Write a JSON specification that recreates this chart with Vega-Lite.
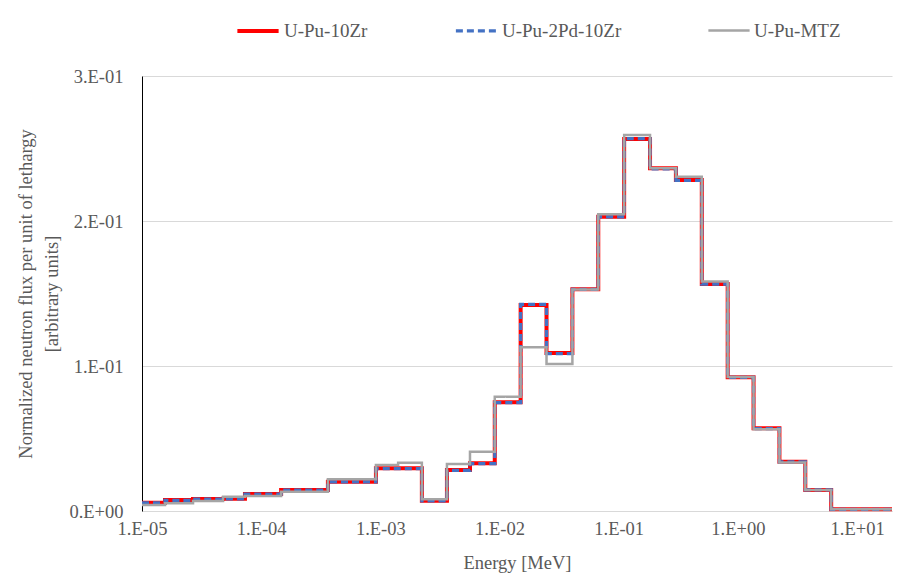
{
  "$schema": "https://vega.github.io/schema/vega-lite/v6.json",
  "width": 750,
  "height": 435,
  "autosize": {"type": "none"},
  "padding": {"left": 142, "top": 76, "right": 29, "bottom": 66},
  "background": "white",
  "config": {
    "view": {"stroke": null},
    "font": "Liberation Serif, Times New Roman, serif",
    "axis": {"labelFont": "Liberation Serif, Times New Roman, serif", "titleFont": "Liberation Serif, Times New Roman, serif", "labelColor": "#595959", "titleColor": "#595959", "labelFontSize": 18.5, "titleFontSize": 18.5, "titleFontWeight": "normal"},
    "legend": {"labelFont": "Liberation Serif, Times New Roman, serif", "labelColor": "#595959", "labelFontSize": 19}
  },
  "data": {
    "values": [
      {"series": "U-Pu-10Zr", "e": 1.0e-5, "v": 0.0057},
      {"series": "U-Pu-10Zr", "e": 1.56e-5, "v": 0.0076},
      {"series": "U-Pu-10Zr", "e": 2.68e-5, "v": 0.0083},
      {"series": "U-Pu-10Zr", "e": 4.79e-5, "v": 0.0085},
      {"series": "U-Pu-10Zr", "e": 7.31e-5, "v": 0.0117},
      {"series": "U-Pu-10Zr", "e": 1.47e-4, "v": 0.0145},
      {"series": "U-Pu-10Zr", "e": 3.63e-4, "v": 0.0202},
      {"series": "U-Pu-10Zr", "e": 9.18e-4, "v": 0.0294},
      {"series": "U-Pu-10Zr", "e": 1.41e-3, "v": 0.0294},
      {"series": "U-Pu-10Zr", "e": 2.23e-3, "v": 0.0071},
      {"series": "U-Pu-10Zr", "e": 3.62e-3, "v": 0.0283},
      {"series": "U-Pu-10Zr", "e": 5.65e-3, "v": 0.0329},
      {"series": "U-Pu-10Zr", "e": 9.1188e-3, "v": 0.0750},
      {"series": "U-Pu-10Zr", "e": 1.5034e-2, "v": 0.1420},
      {"series": "U-Pu-10Zr", "e": 2.4788e-2, "v": 0.1090},
      {"series": "U-Pu-10Zr", "e": 4.0868e-2, "v": 0.1530},
      {"series": "U-Pu-10Zr", "e": 6.7379e-2, "v": 0.2030},
      {"series": "U-Pu-10Zr", "e": 0.11109, "v": 0.2566},
      {"series": "U-Pu-10Zr", "e": 0.18316, "v": 0.2363},
      {"series": "U-Pu-10Zr", "e": 0.30197, "v": 0.2283},
      {"series": "U-Pu-10Zr", "e": 0.49787, "v": 0.1566},
      {"series": "U-Pu-10Zr", "e": 0.82085, "v": 0.0922},
      {"series": "U-Pu-10Zr", "e": 1.3534, "v": 0.0570},
      {"series": "U-Pu-10Zr", "e": 2.2313, "v": 0.0340},
      {"series": "U-Pu-10Zr", "e": 3.6788, "v": 0.0145},
      {"series": "U-Pu-10Zr", "e": 6.0653, "v": 0.0012},
      {"series": "U-Pu-10Zr", "e": 10.0, "v": 0.0012},
      {"series": "U-Pu-10Zr", "e": 19.64, "v": 0.0012},

      {"series": "U-Pu-2Pd-10Zr", "e": 1.0e-5, "v": 0.0056},
      {"series": "U-Pu-2Pd-10Zr", "e": 1.56e-5, "v": 0.0074},
      {"series": "U-Pu-2Pd-10Zr", "e": 2.68e-5, "v": 0.0082},
      {"series": "U-Pu-2Pd-10Zr", "e": 4.79e-5, "v": 0.0084},
      {"series": "U-Pu-2Pd-10Zr", "e": 7.31e-5, "v": 0.0116},
      {"series": "U-Pu-2Pd-10Zr", "e": 1.47e-4, "v": 0.0144},
      {"series": "U-Pu-2Pd-10Zr", "e": 3.63e-4, "v": 0.0201},
      {"series": "U-Pu-2Pd-10Zr", "e": 9.18e-4, "v": 0.0292},
      {"series": "U-Pu-2Pd-10Zr", "e": 1.41e-3, "v": 0.0292},
      {"series": "U-Pu-2Pd-10Zr", "e": 2.23e-3, "v": 0.0070},
      {"series": "U-Pu-2Pd-10Zr", "e": 3.62e-3, "v": 0.0281},
      {"series": "U-Pu-2Pd-10Zr", "e": 5.65e-3, "v": 0.0327},
      {"series": "U-Pu-2Pd-10Zr", "e": 9.1188e-3, "v": 0.0748},
      {"series": "U-Pu-2Pd-10Zr", "e": 1.5034e-2, "v": 0.1425},
      {"series": "U-Pu-2Pd-10Zr", "e": 2.4788e-2, "v": 0.1085},
      {"series": "U-Pu-2Pd-10Zr", "e": 4.0868e-2, "v": 0.1528},
      {"series": "U-Pu-2Pd-10Zr", "e": 6.7379e-2, "v": 0.2028},
      {"series": "U-Pu-2Pd-10Zr", "e": 0.11109, "v": 0.2568},
      {"series": "U-Pu-2Pd-10Zr", "e": 0.18316, "v": 0.2360},
      {"series": "U-Pu-2Pd-10Zr", "e": 0.30197, "v": 0.2280},
      {"series": "U-Pu-2Pd-10Zr", "e": 0.49787, "v": 0.1564},
      {"series": "U-Pu-2Pd-10Zr", "e": 0.82085, "v": 0.0922},
      {"series": "U-Pu-2Pd-10Zr", "e": 1.3534, "v": 0.0568},
      {"series": "U-Pu-2Pd-10Zr", "e": 2.2313, "v": 0.0338},
      {"series": "U-Pu-2Pd-10Zr", "e": 3.6788, "v": 0.0146},
      {"series": "U-Pu-2Pd-10Zr", "e": 6.0653, "v": 0.0012},
      {"series": "U-Pu-2Pd-10Zr", "e": 10.0, "v": 0.0012},
      {"series": "U-Pu-2Pd-10Zr", "e": 19.64, "v": 0.0012},

      {"series": "U-Pu-MTZ", "e": 1.0e-5, "v": 0.0041},
      {"series": "U-Pu-MTZ", "e": 1.56e-5, "v": 0.0053},
      {"series": "U-Pu-MTZ", "e": 2.68e-5, "v": 0.0069},
      {"series": "U-Pu-MTZ", "e": 4.79e-5, "v": 0.0099},
      {"series": "U-Pu-MTZ", "e": 7.31e-5, "v": 0.0103},
      {"series": "U-Pu-MTZ", "e": 1.47e-4, "v": 0.0133},
      {"series": "U-Pu-MTZ", "e": 3.63e-4, "v": 0.0219},
      {"series": "U-Pu-MTZ", "e": 9.18e-4, "v": 0.0317},
      {"series": "U-Pu-MTZ", "e": 1.41e-3, "v": 0.0333},
      {"series": "U-Pu-MTZ", "e": 2.23e-3, "v": 0.0081},
      {"series": "U-Pu-MTZ", "e": 3.62e-3, "v": 0.0324},
      {"series": "U-Pu-MTZ", "e": 5.65e-3, "v": 0.0409},
      {"series": "U-Pu-MTZ", "e": 9.1188e-3, "v": 0.0788},
      {"series": "U-Pu-MTZ", "e": 1.5034e-2, "v": 0.1129},
      {"series": "U-Pu-MTZ", "e": 2.4788e-2, "v": 0.1014},
      {"series": "U-Pu-MTZ", "e": 4.0868e-2, "v": 0.1528},
      {"series": "U-Pu-MTZ", "e": 6.7379e-2, "v": 0.2046},
      {"series": "U-Pu-MTZ", "e": 0.11109, "v": 0.2593},
      {"series": "U-Pu-MTZ", "e": 0.18316, "v": 0.2363},
      {"series": "U-Pu-MTZ", "e": 0.30197, "v": 0.2306},
      {"series": "U-Pu-MTZ", "e": 0.49787, "v": 0.1582},
      {"series": "U-Pu-MTZ", "e": 0.82085, "v": 0.0925},
      {"series": "U-Pu-MTZ", "e": 1.3534, "v": 0.0563},
      {"series": "U-Pu-MTZ", "e": 2.2313, "v": 0.0335},
      {"series": "U-Pu-MTZ", "e": 3.6788, "v": 0.0145},
      {"series": "U-Pu-MTZ", "e": 6.0653, "v": 0.0012},
      {"series": "U-Pu-MTZ", "e": 10.0, "v": 0.0012},
      {"series": "U-Pu-MTZ", "e": 19.64, "v": 0.0012}
    ]
  },
  "encoding": {
    "x": {
      "field": "e", "type": "quantitative",
      "scale": {"type": "log", "domain": [1e-5, 19.64], "nice": false},
      "axis": {
        "title": "Energy [MeV]",
        "values": [1e-5, 1e-4, 1e-3, 1e-2, 1e-1, 1, 10],
        "labelExpr": "'1.E' + (datum.value < 1 ? '-' : '+') + (abs(round(log(datum.value)/LN10)) < 10 ? '0' : '') + abs(round(log(datum.value)/LN10))",
        "grid": false, "ticks": false, "domainColor": "#D9D9D9", "domainWidth": 1,
        "labelPadding": 8, "titlePadding": 16, "labelFlush": false
      }
    },
    "y": {
      "field": "v", "type": "quantitative",
      "scale": {"domain": [0, 0.3], "nice": false},
      "axis": {
        "title": ["Normalized  neutron  flux  per  unit  of  lethargy", "[arbitrary  units]"],
        "values": [0, 0.1, 0.2, 0.3],
        "labelExpr": "datum.value == 0 ? '0.E+00' : format(round(datum.value*10), 'd') + '.E-01'",
        "grid": true, "gridColor": "#D9D9D9", "ticks": false,
        "domainColor": "#000000", "domainWidth": 1,
        "labelPadding": 19, "titlePadding": 7, "titleLineHeight": 26
      }
    },
    "color": {
      "field": "series", "type": "nominal",
      "scale": {"domain": ["U-Pu-10Zr", "U-Pu-2Pd-10Zr", "U-Pu-MTZ"], "range": ["#FF0000", "#4472C4", "#A5A5A5"]},
      "legend": {
        "title": null, "orient": "none", "direction": "horizontal",
        "legendX": 93, "legendY": -68,
        "symbolType": "stroke", "symbolSize": 1700, "columnPadding": 81,
        "labelOffset": 3
      }
    },
    "strokeDash": {
      "field": "series", "type": "nominal",
      "scale": {"domain": ["U-Pu-10Zr", "U-Pu-2Pd-10Zr", "U-Pu-MTZ"], "range": [[1, 0], [7, 4], [1, 0]]},
      "legend": null
    },
    "strokeWidth": {
      "field": "series", "type": "nominal",
      "scale": {"domain": ["U-Pu-10Zr", "U-Pu-2Pd-10Zr", "U-Pu-MTZ"], "range": [4, 2.5, 3]},
      "legend": null
    }
  },
  "layer": [
    {"transform": [{"filter": "datum.series == 'U-Pu-10Zr'"}], "mark": {"type": "line", "interpolate": "step-after"}},
    {"transform": [{"filter": "datum.series == 'U-Pu-2Pd-10Zr'"}], "mark": {"type": "line", "interpolate": "step-after"}},
    {"transform": [{"filter": "datum.series == 'U-Pu-MTZ'"}], "mark": {"type": "line", "interpolate": "step-after"}}
  ]
}
